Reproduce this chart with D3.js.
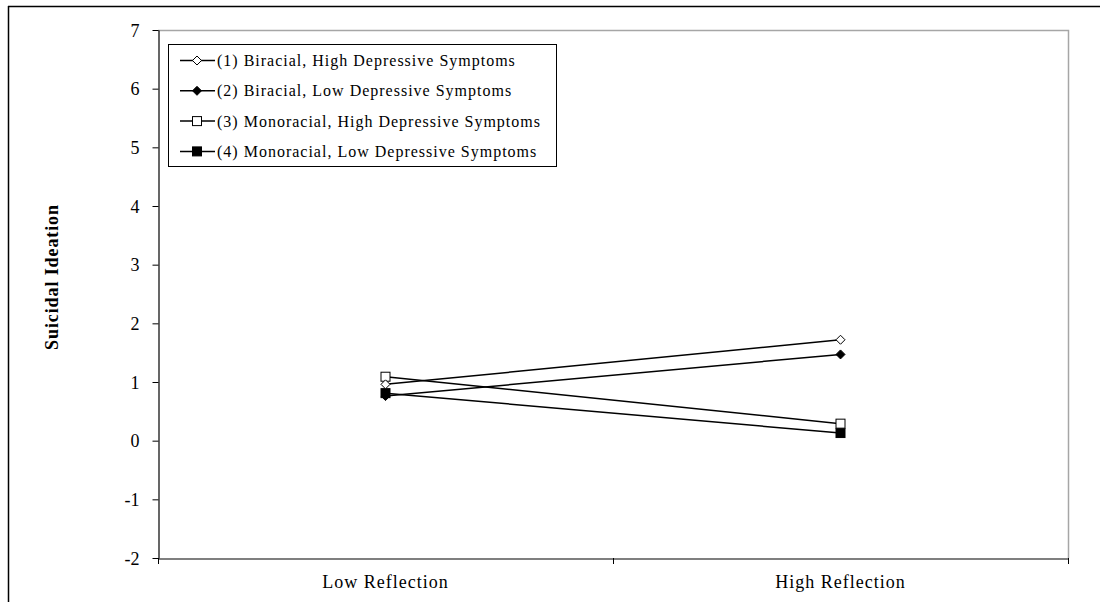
<!DOCTYPE html>
<html><head><meta charset="utf-8">
<script src="https://cdn.jsdelivr.net/npm/d3@7"></script>
<style>html,body{margin:0;padding:0;background:#fff}svg{display:block}</style>
</head><body>
<svg id="c" width="1100" height="602"></svg>
<script>
const categories = ["Low Reflection", "High Reflection"];
const seriesNames = [
  "(1) Biracial, High Depressive Symptoms",
  "(2) Biracial, Low Depressive Symptoms",
  "(3) Monoracial, High Depressive Symptoms",
  "(4) Monoracial, Low Depressive Symptoms"
];
const s1 = [0.96, 1.72];
const s2 = [0.76, 1.47];
const s3 = [1.09, 0.29];
const s4 = [0.81, 0.13];
const yTicks = [-2, -1, 0, 1, 2, 3, 4, 5, 6, 7];
const markers = ["diamondOpen", "diamondFilled", "squareOpen", "squareFilled"];

const series = [s1, s2, s3, s4].map((v, i) => ({name: seriesNames[i], values: v, marker: markers[i]}));

const svg = d3.select("#c");
const L = 158, R = 1068, T = 30, B = 558;
const font = "'Liberation Serif','Times New Roman',serif";

// outer frame
svg.append("line").attr("x1", 8.5).attr("x2", 8.5).attr("y1", 6).attr("y2", 602).attr("stroke", "#000").attr("stroke-width", 1.5);
svg.append("line").attr("x1", 8).attr("x2", 1100).attr("y1", 6.5).attr("y2", 6.5).attr("stroke", "#000").attr("stroke-width", 1.5);

const y = d3.scaleLinear().domain([-2, 7]).range([B, T]);
const x = d3.scaleBand().domain(categories).range([L, R]);

// plot border (top/right gray)
svg.append("path").attr("d", `M${L},${T + 0.5}H${R + 0.5}V${B}`).attr("fill", "none").attr("stroke", "#a6a6a6").attr("stroke-width", 1.5);

// y axis
const yAxis = svg.append("g").attr("transform", `translate(${L + 0.5},0)`)
  .call(d3.axisLeft(y).tickValues(yTicks).tickSize(6).tickSizeOuter(0).tickFormat(d => String(d)));
yAxis.select(".domain").attr("stroke", "#000").attr("stroke-width", 1.2);
yAxis.selectAll(".tick line").attr("stroke", "#000");
yAxis.selectAll(".tick text").style("font-family", font).style("font-size", "18px").attr("fill", "#000")
  .attr("x", -19).attr("dy", "0.34em");

// x axis
const xAxis = svg.append("g").attr("transform", `translate(0,${B + 0.5})`)
  .call(d3.axisBottom(x).tickSize(0).tickSizeOuter(0));
xAxis.select(".domain").attr("stroke", "#000").attr("stroke-width", 1.2);
xAxis.selectAll(".tick text").style("font-family", font).style("font-size", "18px").style("letter-spacing", "1px")
  .attr("fill", "#000").attr("dy", 0).attr("y", 29);
// category boundary ticks
const bounds = [L, ...categories.map(c => x(c) + x.bandwidth())];
svg.selectAll(".bt").data(bounds).join("line")
  .attr("x1", d => d + 0.5).attr("x2", d => d + 0.5).attr("y1", B).attr("y2", B + 6)
  .attr("stroke", "#000");

// y label
svg.append("text").attr("transform", `translate(58,277) rotate(-90)`)
  .attr("text-anchor", "middle").style("font-family", font).style("font-size", "18px").attr("font-weight", "bold")
  .style("letter-spacing", "0.9px")
  .text("Suicidal Ideation");

const cx = c => x(c) + x.bandwidth() / 2;
const line = d3.line().x((d, i) => cx(categories[i])).y(d => y(d));

function drawMarker(g, type, px, py) {
  if (type.startsWith("diamond")) {
    const s = 4.5;
    g.append("path").attr("d", `M${px},${py - s}L${px + s},${py}L${px},${py + s}L${px - s},${py}Z`)
      .attr("fill", type === "diamondOpen" ? "#fff" : "#000").attr("stroke", "#000").attr("stroke-width", 1);
  } else {
    const s = 4.5;
    g.append("rect").attr("x", px - s).attr("y", py - s).attr("width", 2 * s).attr("height", 2 * s)
      .attr("fill", type === "squareOpen" ? "#fff" : "#000").attr("stroke", "#000").attr("stroke-width", 1);
  }
}

const plot = svg.append("g");
series.forEach(s => {
  plot.append("path").datum(s.values).attr("d", line).attr("fill", "none").attr("stroke", "#000").attr("stroke-width", 1.5);
});
// draw markers in reverse order so series 1 stays on top
series.slice().reverse().forEach(s => {
  s.values.forEach((v, i) => drawMarker(plot, s.marker, cx(categories[i]), y(v)));
});

// legend
const lg = svg.append("g");
lg.append("rect").attr("x", 168.5).attr("y", 44.5).attr("width", 388).attr("height", 122)
  .attr("fill", "#fff").attr("stroke", "#000").attr("stroke-width", 1);
series.forEach((s, i) => {
  const ry = 60.5 + i * 30.3;
  lg.append("line").attr("x1", 180).attr("x2", 215).attr("y1", ry).attr("y2", ry).attr("stroke", "#000").attr("stroke-width", 1.5);
  drawMarker(lg, s.marker, 197, ry);
  lg.append("text").attr("x", 217).attr("y", ry + 5.5).style("font-family", font).style("font-size", "16px")
    .style("letter-spacing", "1px").attr("fill", "#000").text(s.name);
});
</script>
</body></html>
